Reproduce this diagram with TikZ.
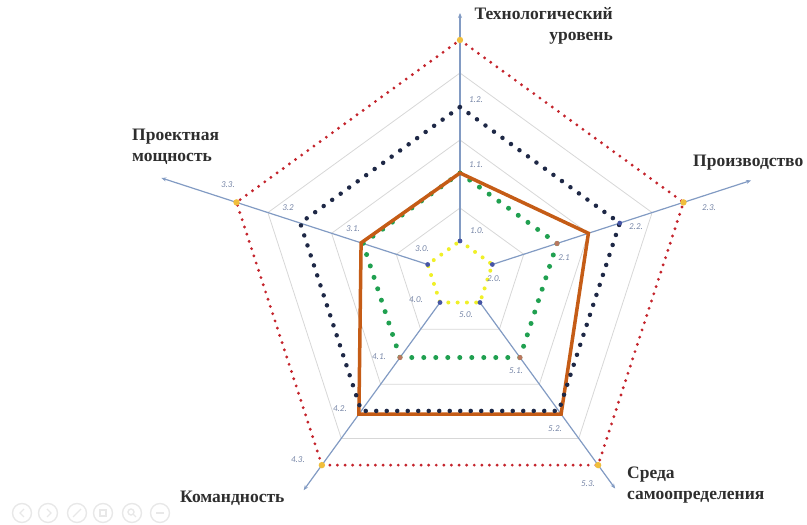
\documentclass[tikz,border=0pt]{standalone}
\usepackage{fontspec}
\setmainfont{Liberation Serif}
\newfontfamily\lblfont{Carlito}
\usetikzlibrary{arrows.meta}
\definecolor{gridc}{RGB}{215,215,215}
\definecolor{axisc}{RGB}{130,155,195}
\definecolor{redc}{RGB}{196,36,44}
\definecolor{navyc}{RGB}{30,40,70}
\definecolor{greenc}{RGB}{32,160,80}
\definecolor{yelc}{RGB}{240,240,40}
\definecolor{orc}{RGB}{197,92,22}
\definecolor{bluem}{RGB}{70,85,165}
\definecolor{brownm}{RGB}{185,120,95}
\definecolor{goldm}{RGB}{240,190,60}
\definecolor{lblc}{RGB}{120,135,168}
\definecolor{iconc}{RGB}{232,232,232}
\tikzset{
  gridline/.style={draw=gridc, line width=0.8pt},
  axisline/.style={draw=axisc, line width=1.2pt, -{Stealth[length=5pt,width=4pt]}},
  reddots/.style={draw=redc, line width=3.2pt, line cap=round, dash pattern=on 0pt off 7.6pt},
  navydots/.style={draw=navyc, line width=4.5pt, line cap=round, dash pattern=on 0pt off 10.5pt},
  greendots/.style={draw=greenc, line width=5pt, line cap=round, dash pattern=on 0pt off 12pt},
  yeldots/.style={draw=yelc, line width=4pt, line cap=round, dash pattern=on 0pt off 9.3pt},
  orline/.style={draw=orc, line width=3.5pt, line join=miter},
  lvl/.style={font=\lblfont\itshape\fontsize{9}{10}\selectfont, text=lblc, inner sep=0pt},
  title/.style={font=\fontsize{17.5}{21}\selectfont\bfseries, text=black!82, inner sep=0pt},
  icon/.style={draw=iconc, line width=1.4pt},
}
\begin{document}
\begin{tikzpicture}[x=1pt,y=1pt]
\useasboundingbox (0,0) rectangle (807,525);
\begin{scope}[shift={(460,250)}]
  % grid
  \foreach \r in {67,135,202}
    \draw[gridline] (90:\r) -- (18:\r) -- (306:\r) -- (234:\r) -- (162:\r) -- cycle;
  % points
  \foreach \i/\a in {1/90,2/18,3/162,4/234,5/306} {
    \coordinate (p\i-0) at (\a:34);
    \coordinate (p\i-1) at (\a:102);
    \coordinate (p\i-2) at (\a:168);
    \coordinate (p\i-3) at (\a:235);
  }
  \coordinate (e1) at (90:262);
  \coordinate (e2) at (18:306);
  \coordinate (e3) at (162:314);
  \coordinate (e4) at (234:266);
  \coordinate (e5) at (306:264);
  \coordinate (o1) at (90:102);
  \coordinate (o2) at (18:135);
  \coordinate (o3) at (162:104);
  \coordinate (o4) at (234:172);
  \coordinate (o5) at (306:172);
\end{scope}
% axes
\foreach \i in {1,...,5} \draw[axisline] (p\i-0) -- (e\i);
% series
\draw[reddots] (p1-3) -- (p2-3) -- (p5-3) -- (p4-3) -- (p3-3) -- cycle;
\draw[greendots] (p1-1) -- (p2-1) -- (p5-1) -- (p4-1) -- (p3-1) -- cycle;
\draw[orline] (o1) -- (o2) -- (o5) -- (o4) -- (o3) -- cycle;
\draw[navydots] (p1-2) -- (p2-2) -- (p5-2) -- (p4-2) -- (p3-2) -- cycle;
\draw[yeldots] (p1-0) -- (p2-0) -- (p5-0) -- (p4-0) -- (p3-0) -- cycle;
% markers
\foreach \i in {1,...,5} {
  \fill[bluem] (p\i-0) circle (2.4pt);
  \fill[goldm] (p\i-3) circle (3.2pt);
}
\fill[bluem] (p2-2) circle (2.4pt);
\foreach \p in {p2-1,p4-1,p5-1} \fill[brownm] (\p) circle (2.6pt);
% level labels
\node[lvl] (l12) at (476,425) {1.2.};
\node[lvl] (l11) at (476,360) {1.1.};
\node[lvl] (l10) at (477,294) {1.0.};
\node[lvl] (l23) at (709,317) {2.3.};
\node[lvl] (l22) at (636,298) {2.2.};
\node[lvl] (l21) at (564,267) {2.1};
\node[lvl] (l20) at (494,246) {2.0.};
\node[lvl] (l33) at (228,340) {3.3.};
\node[lvl] (l32) at (288,317) {3.2};
\node[lvl] (l31) at (353,296) {3.1.};
\node[lvl] (l30) at (422,276) {3.0.};
\node[lvl] (l40) at (416,225) {4.0.};
\node[lvl] (l41) at (379,168) {4.1.};
\node[lvl] (l42) at (340,116) {4.2.};
\node[lvl] (l43) at (298,65) {4.3.};
\node[lvl] (l50) at (466,210) {5.0.};
\node[lvl] (l51) at (516,154) {5.1.};
\node[lvl] (l52) at (555,96) {5.2.};
\node[lvl] (l53) at (588,41) {5.3.};
% titles
\node[title, align=right, anchor=north east] (t1) at (613,518) {Технологический\\уровень};
\node[title, align=left, anchor=west] (t2) at (693,362) {Производство};
\node[title, align=left, anchor=west] (t3) at (132,378) {Проектная\\мощность};
\node[title, align=left, anchor=west] (t4) at (180,27) {Командность};
\node[title, align=left, anchor=west] (t5) at (627,40) {Среда\\самоопределения};
% slideshow icons
\foreach \n/\x in {a/22,b/48,c/77,d/103,e/132,f/160}
  \node[icon, circle, minimum size=19pt, inner sep=0pt] (ic\n) at (\x,12) {};
\draw[icon] ([xshift=2pt,yshift=4pt]ica.center) -- ([xshift=-2pt]ica.center) -- ([xshift=2pt,yshift=-4pt]ica.center);
\draw[icon] ([xshift=-1pt,yshift=4pt]icb.center) -- ([xshift=3pt]icb.center) -- ([xshift=-1pt,yshift=-4pt]icb.center);
\draw[icon] ([xshift=-4pt,yshift=-4pt]icc.center) -- ([xshift=4pt,yshift=4pt]icc.center);
\draw[icon] ([xshift=-3pt,yshift=-3pt]icd.center) rectangle ([xshift=3pt,yshift=3pt]icd.center);
\draw[icon] ([xshift=-1pt,yshift=1pt]ice.center) circle (3pt);
\draw[icon] ([xshift=1pt,yshift=-1pt]ice.center) -- ([xshift=4pt,yshift=-4pt]ice.center);
\draw[icon] ([xshift=-4pt]icf.center) -- ([xshift=4pt]icf.center);
\end{tikzpicture}
\end{document}
